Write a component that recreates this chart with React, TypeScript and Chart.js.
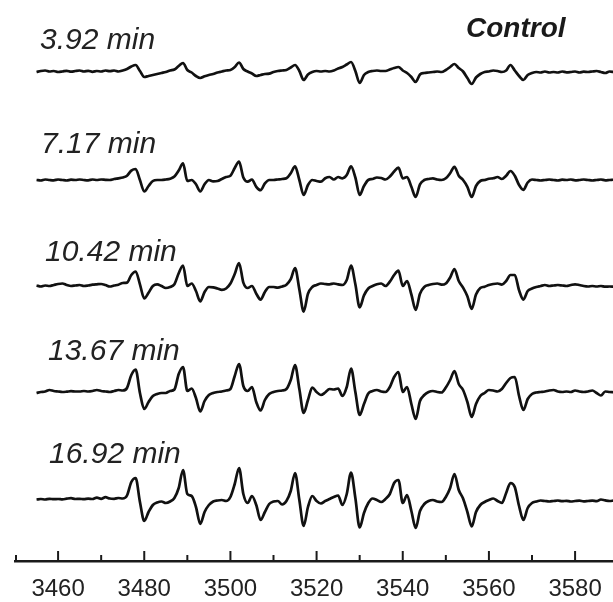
import React, { useEffect, useRef } from "react";
import { Chart, registerables } from "chart.js";

Chart.register(...registerables);

// Magnetic field sampling (G)
const FIELD_START = 3455;
const FIELD_STEP = 1;
const X_MIN = 3450;
const X_MAX = 3588.8;

const TIME_LABELS = ["3.92 min", "7.17 min", "10.42 min", "13.67 min", "16.92 min"];
const PANEL_TITLE = "Control";

const MAJOR_TICKS = [3460, 3480, 3500, 3520, 3540, 3560, 3580];
const TICK_LABELS = ["3460", "3480", "3500", "3520", "3540", "3560", "3580"];
const MINOR_TICKS = [3450, 3470, 3490, 3510, 3530, 3550, 3570];

// EPR signal intensity (arb. units), one value per gauss from 3455 G
const TRACE_3_92 = [
  0, 1, 1.5, 0.5, 1, 0, 0.5, 1.2, 0.3, 1,
  1.5, 0.5, 1.2, 0.2, 1, 0.5, 1.5, 0.8, 1.5, 0.5,
  1.5, 3, 5.5, 7, 1, -5, -4, -3, -2, -1,
  0, 1.5, 2.5, 6, 9, 2, -0.5, -4, -6, -4.3,
  -3, -2, -0.5, 0.5, 1.5, 2, 5, 9.5, 3, 0.5,
  -1.5, -4, -3, -2, -1.7, 0, 1, 1.5, 2, 4.5,
  7, 1, -8, -2.5, 0, 1, 0.5, 1, 0.5, 1.5,
  3.5, 5, 7.5, 10, 1, -11, -3, 0, 1, 1.5,
  1, 1, 2.5, 4, 5, 1.5, -1, -5, -10, -2.5,
  -1, -0.5, 0, 0.5, 0, 2, 5, 8, 4, 0.5,
  -6, -12, -5.5, -2, 0, 0.5, 1.5, 1, 0, 1.5,
  7, 1.5, -4, -8, -3, -1, 0, -0.5, 0.5, -0.5,
  0, -0.5, 0.5, -0.3, 0, 0.5, -0.5, 0.3, 0, 0.5,
  1, 0, -1, 0.5, 0,
];

const TRACE_7_17 = [
  0, -0.5, 0.5, 0, -0.3, 0.5, 0, -0.5, 0.3, 0,
  0.5, 0, -0.3, 0.5, 0, 0.5, 0.2, 0, 1, 1.7,
  2.5, 4.3, 9.4, 11, 0, -11.5, -6, -1, 0, 0,
  0.5, 1.3, 3.4, 9.4, 16.6, -1, 0, -4.3, -11.5, -4.3,
  0, -1.3, -1, 1, 3, 4.3, 12, 18.3, 2.5, -1.7,
  0.5, -6.8, -10.2, -3.4, 0, 0, 0.5, 1, 1.7, 6.8,
  13.6, 0, -15, -5, 0, -1, -1.7, 1.7, 3, 0.5,
  3, 1.7, 5, 13.6, 2.5, -15, -6, 0, 1, 2.5,
  2, 0.5, 3.4, 8.5, 12.4, 1.7, 3, -6.8, -17, -4.3,
  0, 1, 1.7, 0.5, 0, 1.7, 6.8, 13.2, 4.3, 0,
  -6.8, -17, -6, -1, 0, 1.3, 1.7, 3, 1, 4.3,
  9, 4.3, -5, -9.8, -2.5, 0.5, 0, -0.5, 0, 0.5,
  0, -0.5, 0.3, 0, 0.5, -0.3, 0, 0.5, 0, -0.5,
  0, 0.5, -0.3, 0, 0.3,
];

const TRACE_10_42 = [
  0.5, -0.5, 0.5, 0, 1, 2, 2.5, 1, 0, 0.5,
  1, 0, 0.5, 1.3, 1.7, 2, 1, -0.5, 0.5, 1.3,
  3, 3.4, 11, 14.5, 1.7, -12.4, -6.8, 0, 1.7, 0,
  -2, -1, 1.7, 12.8, 20.5, 0, 2.5, -5, -15.4, -6,
  -1, -1.3, -2.5, -3.8, -2.5, 2.5, 12, 23, 3.4, -2,
  0, -7.7, -13.6, -6, -1, -1, -1.7, -0.5, 1.3, 6.8,
  18, -3.4, -25.6, -7.7, -1, 1, 2.5, 2, 1.7, 2.5,
  1.7, 1, 6, 20.5, 1.7, -21.3, -9.4, -2.5, 0, 1.7,
  2.5, 0, 4.3, 11, 15.4, 0, 5, -8.5, -24, -7.7,
  -1, 1, 2, 2.5, 1.3, 2.5, 8.5, 17, 5, -1.7,
  -10.2, -23, -8.5, -2, -0.7, 1, 2, 2.5, 1.3, 5,
  11, 11, -4.3, -13.6, -5, -2.5, -1, 0, 1, 0,
  0.5, 1, 0.5, 0, 1, 1.7, 1, 0, -0.5, 0,
  -0.5, 0, -0.7, -0.5, -0.7,
];

const TRACE_13_67 = [
  -1, 0, 0.5, 2, 1, 0.5, 0, 0.3, 0.8, 0.5,
  0.5, 1, 0.5, 1, 2, 1, 0.5, 0, 1, 2,
  1.5, 4, 17, 22.5, -1, -17, -10, -4, -2, -1,
  -1, 1, 2.5, 18, 25, 1, 3.5, -6, -19.5, -9,
  -3, -1, 0, 0.5, 1.5, 3, 16, 28, 6, 1,
  5, -10, -18.5, -8, -2, 0, 1, 1.5, 3, 12,
  27, 3, -21, -8, 4.5, 0, -3, -0.5, 3, 2.5,
  3.5, -4, 5, 23.5, 0, -23, -12, -1.5, 1, 2,
  0.5, 0, 5, 15, 20, 0, 5, -12, -27, -9,
  -3, 0, 1, 0, -0.5, 4.5, 12, 21, 8, 2,
  -10, -25, -12, -4, -1, 2, 1.5, 0.5, 3, 9,
  14, 15, -4, -18, -7, -2, -0.5, 0, 0.5, 1.5,
  2, 0.5, 0, 0.5, 0, 1.5, 0.5, 0, 0.5, 1.5,
  -1, -3.5, 0.5, 0, -0.3,
];

const TRACE_16_92 = [
  0.5, 1, 0.5, 1.2, 0.8, 1, 0.6, 1.3, 1.8, 1.0,
  1.2, 0.8, 1.4, 1.0, 2.4, 1.2, 2.8, 1.5, 1.2, 2.0,
  1.5, 4.5, 18, 22, -2, -21, -12, -5, -2.5, -1.5,
  -3, -1.5, 2, 12, 30, 6, 4, -7, -24, -12,
  -5, -1.5, -0.5, 0, -1, 3, 16, 32, 6, -3,
  4, -5, -20, -12, -4, -1.5, -1, -4.5, -1, 9,
  27, 0, -26, -7, 4, -1, -3.5, -1, 1, 3,
  4.5, -5, 6, 27.5, 2, -27.5, -13, -3, 1.5, 0,
  -2, 1, 6, 17, 20, -3, 5, -11, -28, -11,
  -4, -1, 0, -1.5, -2, 3, 12, 26, 10, 1.5,
  -12, -26.5, -12, -5, -2, 0, 1.5, -1, -3, 7,
  17, 13, -6, -20, -8, -3, -1.5, -0.5, -1, -1.5,
  -1, -0.5, -1.2, -0.8, -1.5, -1, -0.6, -1.3, -1, -0.7,
  -1.2, 0.5, -0.4, -1, -0.6,
];

const TRACES = [TRACE_3_92, TRACE_7_17, TRACE_10_42, TRACE_13_67, TRACE_16_92];

// Layout (pixels)
const AXIS_Y = 561;
const TRACE_BASELINES = [72, 180, 286, 392, 500];
const LABEL_POS = [
  [40, 49],
  [41, 153],
  [45, 261],
  [48, 360],
  [49, 463],
];
const TITLE_POS = [466, 37];
const FONT = '"Liberation Sans", Arial, sans-serif';

const decorations = {
  id: "decorations",
  afterDraw(chart: any) {
    const ctx = chart.ctx;
    const sx = chart.scales.x;
    const y0 = chart.chartArea.bottom;
    ctx.save();
    ctx.strokeStyle = "#1a1a1a";
    ctx.lineWidth = 2;
    ctx.lineCap = "butt";
    MAJOR_TICKS.forEach((v) => {
      const x = sx.getPixelForValue(v);
      ctx.beginPath();
      ctx.moveTo(x, y0);
      ctx.lineTo(x, y0 - 10);
      ctx.stroke();
    });
    MINOR_TICKS.forEach((v) => {
      const x = Math.max(sx.getPixelForValue(v), sx.left + 1);
      ctx.beginPath();
      ctx.moveTo(x, y0);
      ctx.lineTo(x, y0 - 6);
      ctx.stroke();
    });
    ctx.fillStyle = "#222";
    ctx.textBaseline = "alphabetic";
    ctx.textAlign = "left";
    ctx.font = `italic 30px ${FONT}`;
    TIME_LABELS.forEach((t, i) => {
      ctx.fillText(t, LABEL_POS[i][0], LABEL_POS[i][1]);
    });
    ctx.font = `italic bold 28px ${FONT}`;
    ctx.fillStyle = "#1a1a1a";
    ctx.fillText(PANEL_TITLE, TITLE_POS[0], TITLE_POS[1]);
    ctx.restore();
  },
};

export default function App() {
  const canvasRef = useRef<HTMLCanvasElement | null>(null);

  useEffect(() => {
    if (!canvasRef.current) return;
    const datasets = TRACES.map((vals, k) => ({
      label: TIME_LABELS[k],
      data: vals.map((v, i) => ({
        x: FIELD_START + i * FIELD_STEP,
        y: AXIS_Y - TRACE_BASELINES[k] + v,
      })),
      borderColor: "#111",
      borderWidth: 2.7,
      pointRadius: 0,
      fill: false,
      cubicInterpolationMode: "monotone" as const,
    }));

    const chart = new Chart(canvasRef.current, {
      type: "line",
      data: { datasets },
      options: {
        animation: false,
        responsive: true,
        maintainAspectRatio: false,
        events: [],
        layout: { padding: { left: 15, right: 0, top: 0, bottom: 0 } },
        plugins: {
          legend: { display: false },
          tooltip: { enabled: false },
          title: { display: false },
        },
        scales: {
          x: {
            type: "linear",
            min: X_MIN,
            max: X_MAX,
            grid: { display: false, drawTicks: false },
            border: { display: true, color: "#1a1a1a", width: 2.5 },
            ticks: {
              autoSkip: false,
              maxRotation: 0,
              padding: 14,
              color: "#222",
              font: { family: FONT, size: 24 },
              callback: (value: any) => {
                const idx = MAJOR_TICKS.indexOf(Number(value));
                return idx >= 0 ? TICK_LABELS[idx] : "";
              },
            },
            afterBuildTicks: (scale: any) => {
              scale.ticks = MAJOR_TICKS.map((v) => ({ value: v }));
            },
            afterFit: (scale: any) => {
              scale.height = 602 - AXIS_Y;
              scale.paddingLeft = 0;
              scale.paddingRight = 0;
            },
          },
          y: { display: false, min: 0, max: AXIS_Y },
        },
      },
      plugins: [decorations],
    });
    return () => chart.destroy();
  }, []);

  return (
    <div
      style={{
        position: "absolute",
        left: 0,
        top: 0,
        width: 613,
        height: 602,
        background: "#fff",
      }}
    >
      <canvas ref={canvasRef} />
    </div>
  );
}
